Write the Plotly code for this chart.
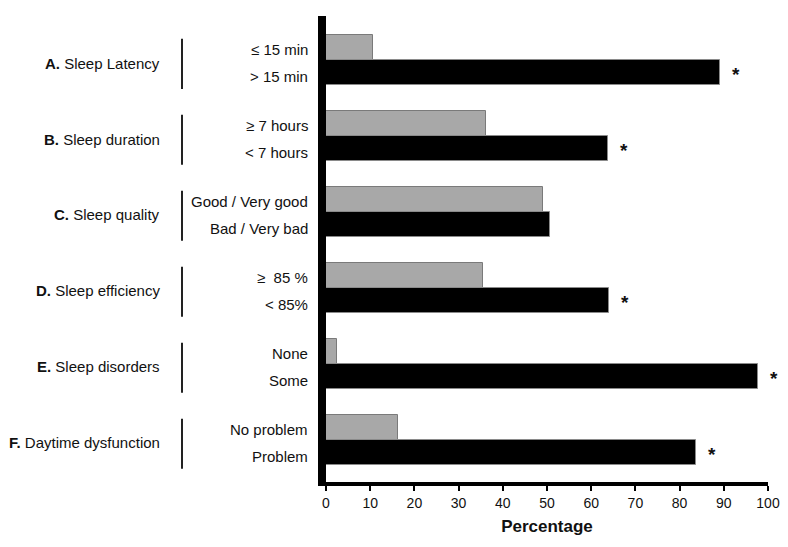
import plotly.graph_objects as go

groups = ["<b>A.</b> Sleep Latency", "<b>B.</b> Sleep duration", "<b>C.</b> Sleep quality",
          "<b>D.</b> Sleep efficiency", "<b>E.</b> Sleep disorders", "<b>F.</b> Daytime dysfunction"]
good_labels = ["≤ 15 min", "≥ 7 hours", "Good / Very good", "≥  85 %", "None", "No problem"]
bad_labels = ["> 15 min", "< 7 hours", "Bad / Very bad", "< 85%", "Some", "Problem"]
good_values = [10.6, 36.3, 49.1, 35.6, 2.4, 16.3]
bad_values = [89.2, 63.8, 50.6, 64.1, 97.7, 83.7]
significant = [True, True, False, True, True, True]
x_ticks = [0, 10, 20, 30, 40, 50, 60, 70, 80, 90, 100]

off = 0.167
ypos = list(range(len(groups)))
y_good = [i - off for i in ypos]
y_bad = [i + off for i in ypos]

fig = go.Figure()
fig.add_trace(go.Bar(x=good_values, y=y_good, orientation="h", width=0.33,
                     marker=dict(color="#A8A8A8", line=dict(color="#7a7a7a", width=1)),
                     showlegend=False, hoverinfo="x"))
fig.add_trace(go.Bar(x=bad_values, y=y_bad, orientation="h", width=0.33,
                     marker=dict(color="#000000", line=dict(color="#8a8a8a", width=1)),
                     showlegend=False, hoverinfo="x"))

font = "Liberation Sans, Arial, sans-serif"
L = 318
W = 442
ann = []
shapes = []
for i in ypos:
    ann.append(dict(x=0, y=y_good[i], xref="x", yref="y", text=good_labels[i], showarrow=False,
                    xanchor="right", xshift=-16, yshift=-2, font=dict(size=15, color="#111")))
    ann.append(dict(x=0, y=y_bad[i], xref="x", yref="y", text=bad_labels[i], showarrow=False,
                    xanchor="right", xshift=-16, yshift=-4, font=dict(size=15, color="#111")))
    ann.append(dict(x=0, y=i, xref="x", yref="y", text=groups[i], showarrow=False,
                    xanchor="right", xshift=-164, yshift=-3, font=dict(size=15, color="#111")))
    if significant[i]:
        ann.append(dict(x=bad_values[i], y=y_bad[i], xref="x", yref="y", text="<b>*</b>", showarrow=False,
                        xanchor="center", xshift=16, yshift=-2, font=dict(size=19, color="#111")))
    shapes.append(dict(type="line", xref="paper", yref="y", x0=(174 - L) / W, x1=(174 - L) / W,
                       y0=i - 0.28, y1=i + 0.38, line=dict(color="#222", width=2)))

fig.update_layout(
    width=780, height=539,
    margin=dict(l=L, r=780 - L - W, t=8, b=65),
    paper_bgcolor="white", plot_bgcolor="white",
    font=dict(family=font, size=14, color="#111"),
    bargap=0,
    annotations=ann, shapes=shapes,
    xaxis=dict(range=[0, 100], tickvals=x_ticks, ticks="outside", ticklen=5, tickwidth=2,
               tickcolor="black", showline=True, linecolor="black", linewidth=4,
               showgrid=False, zeroline=False, tickfont=dict(size=14),
               title=dict(text="<b>Percentage</b>", font=dict(size=17), standoff=11)),
    yaxis=dict(range=[5.553, -0.579], showticklabels=False, ticks="", showline=True,
               linecolor="black", linewidth=8, showgrid=False, zeroline=False),
)

fig.write_html("out.html")
